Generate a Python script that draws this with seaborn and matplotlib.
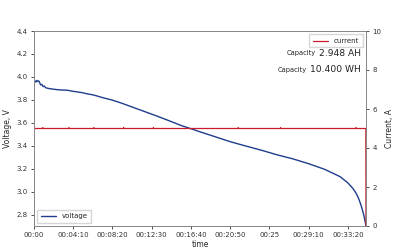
import matplotlib
matplotlib.use("Agg")
import matplotlib.pyplot as plt
import seaborn as sns
import pandas as pd

sns.set_style("ticks")
plt.rcParams['font.family'] = ['DejaVu Sans']

# voltage curve (time in seconds, volts)
v_time = [0, 6, 12, 18, 24, 30, 36, 42, 50, 58, 66, 75, 90, 110, 140, 170, 210, 250,
          300, 340, 380, 440, 500, 560, 620, 700, 780, 860, 940, 1000, 1060, 1150,
          1250, 1350, 1450, 1550, 1650, 1750, 1850, 1950, 2000, 2030, 2050, 2065,
          2080, 2090, 2100, 2108, 2115]
v_vals = [3.95, 3.965, 3.955, 3.97, 3.96, 3.965, 3.95, 3.93, 3.935, 3.915, 3.92, 3.905,
          3.90, 3.895, 3.89, 3.886, 3.884, 3.874, 3.864, 3.852, 3.842, 3.818, 3.797,
          3.77, 3.74, 3.70, 3.66, 3.618, 3.575, 3.548, 3.52, 3.48, 3.435, 3.397, 3.36,
          3.32, 3.285, 3.243, 3.195, 3.13, 3.075, 3.03, 2.99, 2.95, 2.895, 2.85, 2.80,
          2.75, 2.70]

# current (time in seconds, amps)
c_time = [0, 55, 56, 57, 222, 223, 224, 380, 381, 382, 570, 571, 572, 760, 761, 762,
          1300, 1301, 1302, 1570, 1571, 1572, 2050, 2051, 2052, 2114, 2115]
c_vals = [5.0, 5.0, 5.04, 5.0, 5.0, 5.04, 5.0, 5.0, 5.04, 5.0, 5.0, 5.04, 5.0, 5.0,
          5.04, 5.0, 5.0, 5.04, 5.0, 5.0, 5.04, 5.0, 5.0, 5.04, 5.0, 5.0, 0.0]

tick_pos = [0, 250, 500, 750, 1000, 1250, 1500, 1750, 2000]
tick_labels = ["00:00", "00:04:10", "00:08:20", "00:12:30", "00:16:40",
               "00:20:50", "00:25", "00:29:10", "00:33:20"]

cap_ah = "2.948 AH"
cap_wh = "10.400 WH"

vdf = pd.DataFrame({"time": v_time, "voltage": v_vals})
cdf = pd.DataFrame({"time": c_time, "current": c_vals})

fig = plt.figure(figsize=(4, 2.5), dpi=100, facecolor="white")
ax = fig.add_axes([0.085, 0.096, 0.83, 0.78])
ax2 = ax.twinx()

sns.lineplot(data=vdf, x="time", y="voltage", ax=ax, color="#1f3d8c", lw=1.0, label="voltage")
sns.lineplot(data=cdf, x="time", y="current", ax=ax2, color="#cc1a2a", lw=0.9, label="current")

ax.set_xlim(0, 2115)
ax.set_ylim(2.7, 4.4)
ax2.set_ylim(0, 10)
ax.set_yticks([2.8, 3.0, 3.2, 3.4, 3.6, 3.8, 4.0, 4.2, 4.4])
ax2.set_yticks([0, 2, 4, 6, 8, 10])
ax.set_xticks(tick_pos)
ax.set_xticklabels(tick_labels)

for a in (ax, ax2):
    a.tick_params(labelsize=5, length=2.5, width=0.6, colors="#333333", pad=2)
    for s in a.spines.values():
        s.set_color("#888888")
        s.set_linewidth(0.7)

ax.set_xlabel("time", fontsize=5.5, labelpad=1)
ax.set_ylabel("Voltage, V", fontsize=5.5, labelpad=3)
ax2.set_ylabel("Current, A", fontsize=5.5, labelpad=3)

ax.legend(loc="lower left", fontsize=5, frameon=True, handlelength=2.2,
          borderpad=0.5, fancybox=False, edgecolor="#cccccc")
ax2.legend(loc="upper right", fontsize=5, frameon=True, handlelength=2.2,
           borderpad=0.5, fancybox=False, edgecolor="#cccccc")

t1 = ax2.text(0.985, 0.885, cap_ah, transform=ax2.transAxes, ha="right", va="center",
              fontsize=6.6, color="#222222")
ax2.annotate("Capacity", xy=(0, 0.5), xycoords=t1, xytext=(-2.5, 0),
             textcoords="offset points", ha="right", va="center", fontsize=4.8,
             color="#222222")
t2 = ax2.text(0.985, 0.80, cap_wh, transform=ax2.transAxes, ha="right", va="center",
              fontsize=6.6, color="#222222")
ax2.annotate("Capacity", xy=(0, 0.5), xycoords=t2, xytext=(-2.5, 0),
             textcoords="offset points", ha="right", va="center", fontsize=4.8,
             color="#222222")

fig.savefig("out.png", dpi=100, facecolor="white")
